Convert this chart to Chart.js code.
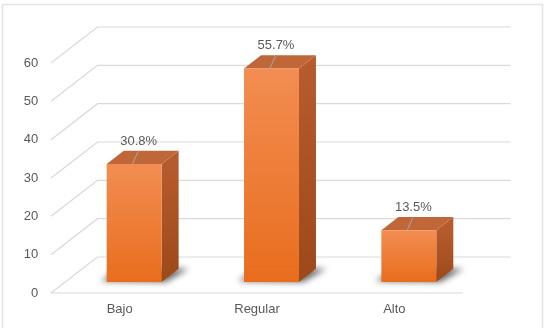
<!DOCTYPE html>
<html>
<head>
<meta charset="utf-8">
<script src="https://cdn.jsdelivr.net/npm/chart.js@4.4.0/dist/chart.umd.min.js"></script>
<style>
  html, body { margin: 0; padding: 0; background: #fff; }
  #wrap { width: 545px; height: 328px; }
</style>
</head>
<body>
<div id="wrap"><canvas id="chart" width="545" height="328"></canvas></div>
<script>
const categories = ['Bajo', 'Regular', 'Alto'];
const values = [30.8, 55.7, 13.5];
const valueLabels = ['30.8%', '55.7%', '13.5%'];
const yTicks = [0, 10, 20, 30, 40, 50, 60];

// fake 3d: offsets of back wall, of the bar front plane and of bar depth
const WALL = { dx: 46.5, dy: -36 };
const SHIFT = { dx: 14.5, dy: -11 };
const DEPTH = { dx: 17, dy: -13.3 };
const FONT = { size: 13, family: '"Liberation Sans", Arial, sans-serif' };

function barGradient(ctx, top, bottom, c1, c2) {
    const g = ctx.createLinearGradient(0, top, 0, bottom);
    g.addColorStop(0, c1);
    g.addColorStop(1, c2);
    return g;
}

const wallPlugin = {
    id: 'wall',
    beforeDraw(chart) {
        const { ctx, chartArea: a, scales: { y } } = chart;
        ctx.save();
        ctx.fillStyle = '#fff';
        ctx.fillRect(0, 0, chart.width, chart.height);
        ctx.strokeStyle = '#e4e4e4';
        ctx.lineWidth = 1.5;
        ctx.strokeRect(2.5, 4.5, 540, 330);

        ctx.strokeStyle = '#d9d9d9';
        ctx.lineWidth = 1.2;
        yTicks.forEach(v => {
            const py = y.getPixelForValue(v);
            ctx.beginPath();
            ctx.moveTo(a.left, py);
            ctx.lineTo(a.left + WALL.dx, py + WALL.dy);
            ctx.lineTo(a.right + WALL.dx + 1, py + WALL.dy);
            ctx.stroke();
        });
        const p0 = y.getPixelForValue(0);
        ctx.beginPath();
        ctx.moveTo(a.left, p0);
        ctx.lineTo(a.right, p0);
        ctx.stroke();
        ctx.restore();
    }
};

const boxPlugin = {
    id: 'box3d',
    beforeDatasetsDraw(chart) {
        const ctx = chart.ctx;
        ctx.save();
        ctx.translate(SHIFT.dx, SHIFT.dy);
        chart.getDatasetMeta(0).data.forEach(bar => {
            const l = bar.x - bar.width / 2, r = bar.x + bar.width / 2;
            const t = bar.y, b = bar.base;
            // shadow on the floor
            ctx.save();
            ctx.filter = 'blur(3px)';
            ctx.fillStyle = 'rgba(0,0,0,0.6)';
            ctx.beginPath();
            ctx.moveTo(l - 6, b - 1);
            ctx.lineTo(r + 4, b);
            ctx.lineTo(r + DEPTH.dx + 10, b + DEPTH.dy);
            ctx.lineTo(l + DEPTH.dx - 4, b + DEPTH.dy);
            ctx.closePath();
            ctx.fill();
            ctx.restore();
            // side face
            ctx.fillStyle = barGradient(ctx, t, b, '#b65b2d', '#9d4919');
            ctx.beginPath();
            ctx.moveTo(r, t);
            ctx.lineTo(r + DEPTH.dx, t + DEPTH.dy);
            ctx.lineTo(r + DEPTH.dx, b + DEPTH.dy);
            ctx.lineTo(r, b);
            ctx.closePath();
            ctx.fill();
            // top face
            ctx.fillStyle = '#c06739';
            ctx.beginPath();
            ctx.moveTo(l, t);
            ctx.lineTo(r, t);
            ctx.lineTo(r + DEPTH.dx, t + DEPTH.dy);
            ctx.lineTo(l + DEPTH.dx, t + DEPTH.dy);
            ctx.closePath();
            ctx.fill();
        });
    },
    afterDatasetsDraw(chart) {
        const ctx = chart.ctx;
        ctx.restore();
        ctx.save();
        ctx.font = `${FONT.size}px ${FONT.family}`;
        ctx.fillStyle = '#595959';
        ctx.textAlign = 'center';
        ctx.textBaseline = 'middle';
        chart.getDatasetMeta(0).data.forEach((bar, i) => {
            const cx = bar.x + SHIFT.dx, ty = bar.y + SHIFT.dy;
            ctx.strokeStyle = '#a6a6a6';
            ctx.lineWidth = 1;
            ctx.beginPath();
            ctx.moveTo(cx - 1.7, ty);
            ctx.lineTo(cx + 4, ty - 12.5);
            ctx.stroke();
            ctx.fillText(valueLabels[i], cx + 4.5, ty - 23);
        });
        ctx.restore();
    }
};

new Chart(document.getElementById('chart'), {
    type: 'bar',
    data: {
        labels: categories,
        datasets: [{
            data: values,
            clip: false,
            borderWidth: 0,
            barPercentage: 0.4,
            categoryPercentage: 1,
            backgroundColor(c) {
                const ch = c.chart;
                if (!ch.chartArea) return '#ee7a2c';
                const y = ch.scales.y;
                return barGradient(ch.ctx, y.getPixelForValue(c.raw), y.getPixelForValue(0), '#f28d52', '#e96d1d');
            }
        }]
    },
    options: {
        responsive: false,
        animation: false,
        layout: { padding: { left: 0, right: 82, top: 63, bottom: 0 } },
        plugins: { legend: { display: false }, tooltip: { enabled: false } },
        scales: {
            x: {
                afterFit(s) { s.height = 35; },
                grid: { display: false, drawTicks: false },
                border: { display: false },
                ticks: { color: '#595959', font: FONT, padding: 9 }
            },
            y: {
                min: 0, max: 60,
                afterFit(s) { s.width = 51; },
                grid: { display: false, drawTicks: false },
                border: { display: false },
                ticks: { stepSize: 10, color: '#595959', font: FONT, padding: 12.7 }
            }
        }
    },
    plugins: [wallPlugin, boxPlugin]
});
</script>
</body>
</html>
